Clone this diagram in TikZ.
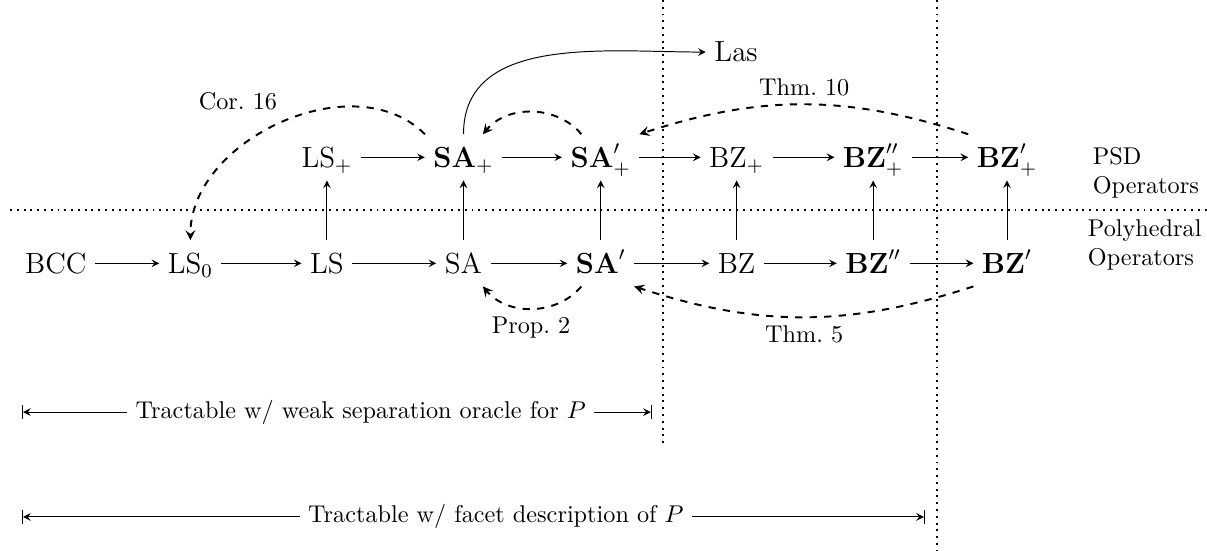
\documentclass[tikz,border=0pt]{standalone}
\usepackage{amsmath,amssymb}
\usepackage{tikz}
\usetikzlibrary{arrows,positioning}

\begin{document}
\begin{tikzpicture}[
			>=stealth,
			op/.style={
				font=\large,
				text height=10pt,
				text depth=2pt
			},
			side/.style={
				align=left,
				anchor=west
			},
			arrow/.style={->},
			proof/.style={->, thick, dashed},
			sep/.style={thick, dotted}
			]
			\useasboundingbox (0,0) rectangle (17.5,7.975);
			% Polyhedral operators (bottom row)
			\node[op] (bcc) at (0.81,4.157) {$\mathrm{BCC}$};
			\node[op] (lsz) at (2.76,4.157) {$\mathrm{LS}_0$};
			\node[op] (ls) at (4.74,4.157) {$\mathrm{LS}$};
			\node[op] (sa) at (6.72,4.157) {$\mathrm{SA}$};
			\node[op] (sap) at (8.71,4.157) {$\mathbf{SA}'$};
			\node[op] (bz) at (10.68,4.157) {$\mathrm{BZ}$};
			\node[op] (bzpp) at (12.66,4.157) {$\mathbf{BZ}''$};
			\node[op] (bzp) at (14.60,4.157) {$\mathbf{BZ}'$};
			% PSD operators (top row)
			\node[op] (lsplus) at (4.74,5.694) {$\mathrm{LS}_+$};
			\node[op] (saplus) at (6.72,5.694) {$\mathbf{SA}_+$};
			\node[op] (sapplus) at (8.71,5.694) {$\mathbf{SA}'_+$};
			\node[op] (bzplus) at (10.68,5.694) {$\mathrm{BZ}_+$};
			\node[op] (bzppplus) at (12.66,5.694) {$\mathbf{BZ}''_+$};
			\node[op] (bzpplus) at (14.60,5.694) {$\mathbf{BZ}'_+$};
			\node[op] (las) at (10.67,7.22) {$\mathrm{Las}$};
			% Row labels
			\node[side] (psd) at (15.72,5.47) {PSD\\Operators};
			\node[side] (poly) at (15.65,4.42) {Polyhedral\\Operators};
			% Separators
			\draw[sep] (0.145,4.93) -- (17.5,4.93);
			\draw[sep] (9.61,7.975) -- (9.61,1.55);
			\draw[sep] (13.59,7.975) -- (13.59,0);
			% Bottom row arrows
			\draw[arrow] (bcc) -- (lsz);
			\draw[arrow] (lsz) -- (ls);
			\draw[arrow] (ls) -- (sa);
			\draw[arrow] (sa) -- (sap);
			\draw[arrow] (sap) -- (bz);
			\draw[arrow] (bz) -- (bzpp);
			\draw[arrow] (bzpp) -- (bzp);
			% Top row arrows
			\draw[arrow] (lsplus) -- (saplus);
			\draw[arrow] (saplus) -- (sapplus);
			\draw[arrow] (sapplus) -- (bzplus);
			\draw[arrow] (bzplus) -- (bzppplus);
			\draw[arrow] (bzppplus) -- (bzpplus);
			% Lifting arrows
			\draw[arrow] (ls) -- (lsplus);
			\draw[arrow] (sa) -- (saplus);
			\draw[arrow] (sap) -- (sapplus);
			\draw[arrow] (bz) -- (bzplus);
			\draw[arrow] (bzpp) -- (bzppplus);
			\draw[arrow] (bzp) -- (bzpplus);
			\draw[arrow] (saplus.north) to[out=90,in=180] (las.west);
			% Results
			\draw[proof] (saplus.north west) to[out=135,in=90] (lsz.north);
			\node (cor) at (3.45,6.50) {Cor.~16};
			\draw[proof] (sapplus.130) to[bend right=50] (saplus.50);
			\draw[proof] (bzpplus.north west) to[bend right=18] (sapplus.north east);
			\node (thmten) at (11.66,6.71) {Thm.~10};
			\draw[proof] (sap.-130) to[bend left=50] (sa.-50);
			\node (prop) at (7.70,3.23) {Prop.~2};
			\draw[proof] (bzp.south west) to[bend left=18] (sap.south east);
			\node (thmfive) at (11.66,3.12) {Thm.~5};
			% Tractability ranges
			\coordinate (wl) at (0.32,2.0);
			\coordinate (wr) at (9.45,2.0);
			\node (weak) at (5.23,2.0) {Tractable w/ weak separation oracle for $P$};
			\draw[|<-] (wl) -- (weak.west);
			\draw[->|] (weak.east) -- (wr);
			\coordinate (fl) at (0.32,0.48);
			\coordinate (fr) at (13.41,0.48);
			\node (facet) at (7.19,0.48) {Tractable w/ facet description of $P$};
			\draw[|<-] (fl) -- (facet.west);
			\draw[->|] (facet.east) -- (fr);
		\end{tikzpicture}
\end{document}
